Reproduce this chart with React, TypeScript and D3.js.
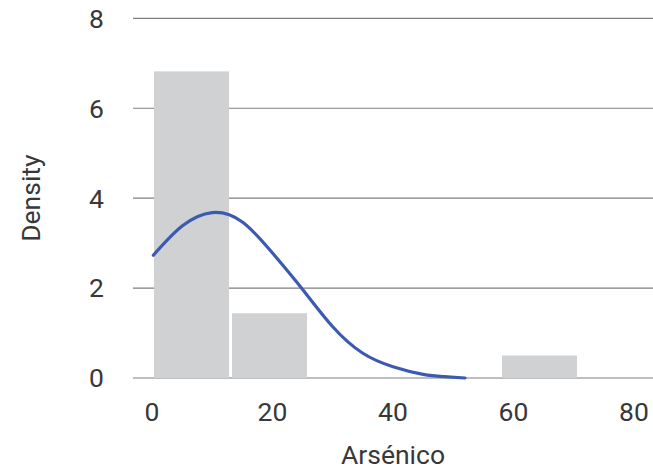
import React from "react";
import * as d3 from "d3";

const binStarts = [0.08, 13.03, 57.84];
const binEnds = [13.03, 25.98, 70.79];
const binDensity = [6.82, 1.44, 0.5];

const curveX = [0.22, 5, 10, 15, 20, 25, 30, 35, 40, 45, 48.5, 51.95];
const curveY = [2.73, 3.38, 3.68, 3.47, 2.78, 1.97, 1.14, 0.55, 0.25, 0.08, 0.03, 0.0];

const xTicks = [0, 20, 40, 60, 80];
const yTicks = [0, 2, 4, 6, 8];

const W = 653;
const H = 470;

export default function App() {
  const x = d3.scaleLinear().domain([0, 80]).range([152, 634]);
  const y = d3.scaleLinear().domain([0, 8]).range([378, 18.3]);
  const line = d3
    .line<number>()
    .x((_, i) => x(curveX[i]))
    .y((d) => y(d))
    .curve(d3.curveNatural);
  const font = "Roboto, sans-serif";
  const fs = 26.5;
  return (
    <svg
      width={W}
      height={H}
      style={{ position: "absolute", left: 0, top: 0 }}
      fontFamily={font}
    >
      <rect width={W} height={H} fill="#fff" />
      {yTicks.map((t) => (
        <line key={t} x1={133} x2={653} y1={y(t)} y2={y(t)} stroke="#7f7f7f" strokeWidth={1.2} />
      ))}
      {binDensity.map((d, i) => (
        <rect
          key={i}
          x={x(binStarts[i]) + 1.5}
          width={x(binEnds[i]) - x(binStarts[i]) - 3}
          y={y(d)}
          height={y(0) - y(d)}
          fill="#d0d1d3"
        />
      ))}
      <path d={line(curveY) || ""} fill="none" stroke="#3a5bb0" strokeWidth={3.2} strokeLinecap="round" />
      {yTicks.map((t) => (
        <text key={t} x={104} y={y(t)} dy="0.355em" textAnchor="end" fontSize={fs} fill="#383838">
          {t}
        </text>
      ))}
      {xTicks.map((t) => (
        <text key={t} x={x(t)} y={412} dy="0.355em" textAnchor="middle" fontSize={fs} fill="#383838">
          {t}
        </text>
      ))}
      <text x={x(40)} y={464} textAnchor="middle" fontSize={fs} fill="#383838">
        Arsénico
      </text>
      <text
        transform={`translate(40,${y(4)}) rotate(-90)`}
        textAnchor="middle"
        fontSize={fs}
        fill="#383838"
      >
        Density
      </text>
    </svg>
  );
}
